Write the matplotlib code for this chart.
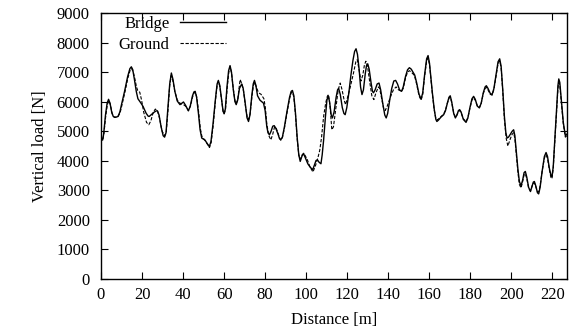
import matplotlib
matplotlib.use("Agg")
import matplotlib.pyplot as plt

plt.rcParams['font.family'] = ['Liberation Serif', 'DejaVu Serif']
plt.rcParams['font.size'] = 12

# Bridge: distance [m] and vertical load [N]
bridge_x = [0, 0.4, 0.8, 1.3, 2.2, 3.0, 3.7, 4.4, 5.3, 6.0, 6.7, 7.5, 8.3, 9.2, 10, 11.5,
            13, 14.1, 14.8, 15.5, 16.3, 17.2, 18, 19.5, 20.5, 22, 23, 23.5, 24.5, 26, 27,
            27.5, 28.3, 29.3, 30.3, 31, 31.7, 32.6, 33.5, 34.3, 35.1, 36, 37.2, 38.5,
            39.4, 40.2, 41.2, 42.6, 43.5, 44.6, 45.3, 45.9, 46.6, 47.5, 48.3, 49.1,
            50.7, 51.8, 52.8, 53.6, 54.6, 55.8, 56.6, 57.2, 57.9, 58.8, 59.5, 60, 60.6,
            61.4, 62.2, 62.9, 63.6, 64.5, 65.3, 65.9, 66.6, 67.5, 68.6, 69.3, 70.2,
            71.2, 71.9, 72.6, 73.5, 74.2, 74.8, 75.5, 76.3, 77.5, 79.2, 80, 80.8, 81.4,
            82.1, 82.9, 83.7, 84.4, 85.2, 86.3, 87, 87.6, 88.4, 89.4, 90.6, 91.9, 92.7,
            93.3, 94, 94.8, 95.6, 96.4, 97.1, 97.9, 98.7, 99.6, 100.8, 102, 103.2, 104,
            104.8, 105.5, 106.3, 107.2, 107.8, 108.5, 109.4, 110.1, 110.7, 111.4, 112.2,
            112.8, 113.6, 114.6, 115.3, 115.8, 116.6, 117.6, 118.4, 119, 119.8, 120.8,
            121.8, 122.8, 123.6, 124.3, 125, 125.8, 126.5, 127.2, 127.9, 128.8, 129.4,
            130, 130.7, 131.6, 132.3, 132.8, 133.6, 134.6, 135.5, 136.3, 137.3, 138.3,
            139, 139.7, 140.7, 141.7, 142.7, 143.6, 144.5, 145.5, 146.5, 147.3, 148.4,
            149.4, 150.3, 151.2, 152.2, 152.9, 153.8, 155, 156, 156.8, 157.7, 158.7,
            159.4, 160.1, 160.8, 161.5, 162.4, 163.2, 163.7, 164.5, 165.7, 167, 167.9,
            168.8, 169.6, 170.2, 170.9, 171.9, 172.7, 173.5, 174.2, 174.8, 175.5, 176.6,
            177.9, 178.8, 179.8, 180.8, 181.6, 182.4, 183.4, 184.4, 185.3, 186.3, 187.2,
            187.8, 188.6, 189.7, 190.6, 191.5, 192.5, 193.5, 194.3, 195, 195.8, 196.6,
            197.3, 197.9, 198.6, 199.5, 200.4, 201.1, 201.7, 202.4, 203.2, 203.9, 204.7,
            205.5, 206.2, 206.8, 207.5, 208.4, 209.3, 210.1, 210.7, 211.2, 211.9, 212.7,
            213.3, 214, 215, 216.1, 216.9, 217.6, 218.5, 219.3, 219.8, 220.4, 221.3,
            222.2, 222.7, 223.1, 223.6, 224.4, 225.3, 226.3, 227]
bridge_y = [4850, 4720, 4700, 4900, 5550, 5950, 6080, 5950, 5620, 5500, 5470, 5480, 5500,
            5650, 5900, 6350, 6850, 7120, 7180, 7080, 6750, 6350, 6100, 5950, 5840, 5610,
            5510, 5500, 5560, 5650, 5690, 5690, 5550, 5150, 4850, 4800, 4950, 5800, 6600,
            6970, 6750, 6350, 6020, 5900, 5950, 5990, 5880, 5690, 5850, 6200, 6330, 6350,
            6150, 5600, 5050, 4770, 4700, 4580, 4480, 4650, 5250, 6100, 6600, 6720, 6550,
            6050, 5680, 5590, 5750, 6500, 7050, 7220, 7000, 6400, 6000, 5900, 6050, 6450,
            6600, 6450, 6000, 5450, 5330, 5550, 6200, 6600, 6720, 6550, 6200, 6050, 5950,
            5700, 5160, 4950, 4880, 5000, 5170, 5190, 5100, 4900, 4750, 4710, 4800, 5150,
            5650, 6150, 6350, 6380, 6200, 5600, 4800, 4200, 3980, 4150, 4250, 4100, 3900,
            3780, 3700, 3850, 4010, 4030, 3950, 3900, 4200, 4700, 5500, 6050, 6200, 6000,
            5550, 5450, 5650, 6150, 6400, 6450, 6250, 5800, 5600, 5560, 5800, 6300, 6900,
            7400, 7700, 7790, 7600, 7100, 6500, 6240, 6400, 6950, 7220, 7280, 7100, 6650,
            6350, 6300, 6400, 6600, 6630, 6400, 5950, 5550, 5450, 5600, 6050, 6450, 6700,
            6720, 6600, 6400, 6350, 6500, 6850, 7080, 7150, 7100, 6980, 6900, 6650, 6250,
            6090, 6300, 6900, 7450, 7560, 7300, 6800, 6300, 5750, 5400, 5330, 5380, 5480,
            5560, 5700, 5950, 6150, 6200, 6000, 5600, 5450, 5550, 5700, 5730, 5650, 5400,
            5300, 5450, 5800, 6100, 6180, 6080, 5850, 5790, 5950, 6300, 6500, 6540, 6450,
            6280, 6240, 6450, 6900, 7350, 7450, 7200, 6400, 5500, 4950, 4770, 4800, 4900,
            5000, 5050, 4850, 4300, 3700, 3300, 3150, 3350, 3600, 3640, 3450, 3100, 2960,
            3150, 3280, 3300, 3150, 2920, 2880, 3100, 3650, 4150, 4280, 4150, 3750, 3500,
            3470, 3800, 4900, 6000, 6550, 6770, 6650, 6000, 5300, 4850, 4900]

# Ground
ground_x = [0, 0.4, 0.9, 1.4, 2.3, 3.1, 3.8, 4.5, 5.4, 6.1, 6.8, 8.3, 9.3, 10.1, 11.6,
            13.1, 14.2, 15, 15.8, 16.5, 17.3, 17.9, 18.9, 19.8, 20.8, 22.2, 23.3, 24.3,
            25.5, 26.5, 27.5, 28.5, 29.8, 31, 31.8, 32.7, 33.5, 34.2, 35, 36, 37.2, 38.5,
            39.4, 40.2, 41.2, 42.6, 43.6, 44.6, 45.4, 46, 46.7, 47.6, 48.4, 49.2, 50.8,
            51.9, 52.9, 53.7, 54.7, 55.8, 56.6, 57.2, 57.9, 58.8, 59.5, 60.1, 60.7,
            61.5, 62.3, 62.9, 63.6, 64.5, 65.3, 65.9, 66.7, 67.8, 68.7, 69.5, 70.3,
            71.3, 72, 72.7, 73.6, 74.3, 74.9, 75.7, 76.5, 77.3, 78, 79.4, 80.1, 80.8,
            81.8, 82.8, 83.7, 84.6, 85.4, 86.2, 87, 87.6, 88.4, 89.4, 90.6, 91.9, 92.7,
            93.3, 94, 94.8, 95.6, 96.4, 97.1, 98, 98.9, 99.7, 100.5, 101.8, 103.3,
            104.6, 105.7, 106.6, 107.5, 108.5, 109.5, 110.3, 110.9, 111.7, 112.5,
            113.3, 114.5, 115.6, 116.6, 117.5, 118.5, 119.2, 120, 121.5, 123, 124.2,
            124.9, 125.7, 126.7, 127.6, 128.4, 129.1, 129.9, 130.9, 132, 133, 134,
            135.2, 135.8, 136.8, 137.8, 138.5, 139.5, 141, 142.5, 143.8, 145, 146.5,
            147.3, 148.4, 149.4, 150.3, 151.2, 152.2, 152.9, 153.8, 155, 156, 156.8,
            157.7, 158.7, 159.4, 160.1, 160.8, 161.5, 162.4, 163.2, 163.8, 164.6,
            165.8, 167, 167.9, 168.8, 169.6, 170.2, 170.9, 171.9, 172.7, 173.5, 174.2,
            174.8, 175.5, 176.6, 177.9, 178.8, 179.8, 180.8, 181.6, 182.4, 183.4,
            184.4, 185.3, 186.3, 187.2, 187.8, 188.6, 189.7, 190.6, 191.5, 192.5,
            193.5, 194.3, 195, 195.8, 196.6, 197.5, 198.3, 199.5, 200.4, 201.1, 201.7,
            202.4, 203.2, 203.9, 204.7, 205.5, 206.2, 206.8, 207.5, 208.4, 209.3,
            210.1, 210.7, 211.2, 211.9, 212.7, 213.3, 214, 215, 216.1, 216.9, 217.6,
            218.5, 219.3, 219.8, 220.4, 221.3, 222.2, 222.7, 223.1, 223.6, 224.4,
            225.3, 226.3, 227]
ground_y = [4850, 4740, 4720, 4900, 5500, 5900, 6030, 5920, 5620, 5500, 5470, 5500, 5620,
            5850, 6300, 6800, 7060, 7120, 6980, 6780, 6500, 6380, 6320, 6050, 5650, 5300,
            5220, 5350, 5650, 5750, 5700, 5450, 5000, 4850, 4950, 5750, 6550, 6880, 6720,
            6350, 6050, 5950, 5920, 5900, 5850, 5700, 5850, 6150, 6300, 6320, 6150, 5650,
            5100, 4820, 4680, 4560, 4450, 4620, 5200, 6050, 6550, 6680, 6520, 6050, 5680,
            5600, 5750, 6450, 7000, 7180, 6980, 6430, 6030, 5930, 6100, 6750, 6600, 6350,
            5900, 5450, 5400, 5600, 6200, 6550, 6650, 6500, 6350, 6280, 6250, 6100, 5800,
            5250, 4850, 4710, 4900, 5150, 5100, 4950, 4780, 4700, 4780, 5100, 5600, 6100,
            6300, 6330, 6150, 5550, 4750, 4200, 4050, 4200, 4250, 4150, 4050, 3800, 3620,
            3850, 4100, 4350, 4800, 5500, 5950, 6180, 6240, 5800, 5050, 5150, 5800, 6400,
            6630, 6400, 6050, 5900, 6100, 6500, 6950, 7350, 7420, 7100, 6700, 6900, 7250,
            7370, 7200, 6700, 6200, 6070, 6300, 6500, 6450, 6100, 5750, 5700, 5850, 6150,
            6400, 6500, 6400, 6350, 6450, 6800, 7000, 7050, 7000, 6930, 6850, 6600, 6200,
            6050, 6250, 6850, 7380, 7480, 7250, 6750, 6250, 5720, 5420, 5380, 5420, 5500,
            5580, 5720, 5950, 6120, 6150, 5980, 5620, 5480, 5560, 5680, 5700, 5620, 5420,
            5330, 5460, 5780, 6060, 6130, 6050, 5860, 5800, 5950, 6270, 6450, 6480, 6400,
            6250, 6220, 6420, 6850, 7280, 7380, 7150, 6350, 5400, 4750, 4500, 4750, 4900,
            4950, 4750, 4200, 3600, 3200, 3080, 3300, 3530, 3560, 3400, 3080, 2980, 3150,
            3240, 3250, 3120, 2960, 2950, 3150, 3650, 4100, 4200, 4080, 3700, 3420, 3400,
            3750, 4800, 5900, 6450, 6650, 6550, 5950, 5250, 4800, 4850]

y_ticks = list(range(0, 9001, 1000))
x_ticks = list(range(0, 221, 20))

fig = plt.figure(figsize=(5.76, 3.31), dpi=100)
ax = fig.add_axes([0.1753, 0.157, 0.8087, 0.8037])

ax.plot(bridge_x, bridge_y, color='black', lw=1.0, label='Bridge')
ax.plot(ground_x, ground_y, color='black', lw=0.8, linestyle=(0, (3, 1.5)), label='Ground')

ax.set_xlim(0, 227)
ax.set_ylim(0, 9000)
ax.set_xticks(x_ticks)
ax.set_yticks(y_ticks)
ax.tick_params(direction='in', top=True, right=True, length=5, width=0.8)
ax.tick_params(axis='y', pad=8)
ax.tick_params(axis='x', pad=6)
for s in ax.spines.values():
    s.set_linewidth(1.0)

ax.set_xlabel('Distance [m]', labelpad=6)
ax.set_ylabel('Vertical load [N]', labelpad=6)

ax.legend(loc='upper left', bbox_to_anchor=(0.006, 1.047), frameon=False,
          markerfirst=False, handlelength=2.8, labelspacing=0.34, handletextpad=0.6)

fig.savefig('out.png', dpi=100)
